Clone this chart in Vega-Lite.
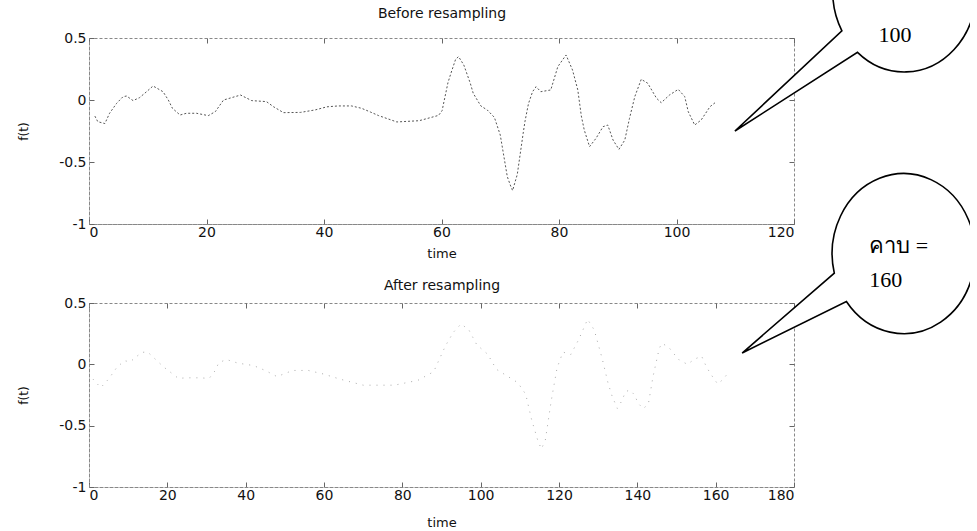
{
  "$schema": "https://vega.github.io/schema/vega-lite/v6.json",
  "background": "white",
  "padding": {"left": 17, "top": -92, "right": -10, "bottom": 0},
  "config": {
    "font": "DejaVu Sans",
    "view": {"stroke": "#888", "strokeDash": [3, 2]},
    "axis": {
      "grid": false,
      "domainColor": "#888",
      "domainDash": [3, 2],
      "tickColor": "#666",
      "tickSize": -5,
      "labelFontSize": 14,
      "labelColor": "#111",
      "labelFont": "DejaVu Sans",
      "titleFont": "DejaVu Sans",
      "titleFontSize": 13,
      "titleFontWeight": "normal",
      "titleColor": "#111"
    }
  },
  "datasets": {
    "before": [
      {"t": 1.0, "f": -0.13}, {"t": 1.5, "f": -0.175}, {"t": 2.7, "f": -0.19}, {"t": 3.5, "f": -0.107},
      {"t": 4.7, "f": -0.027}, {"t": 5.8, "f": 0.027}, {"t": 6.4, "f": 0.032}, {"t": 7.5, "f": -0.005},
      {"t": 8.6, "f": 0.019}, {"t": 9.8, "f": 0.067}, {"t": 10.9, "f": 0.113}, {"t": 12.6, "f": 0.067},
      {"t": 13.5, "f": 0.0}, {"t": 14.2, "f": -0.067}, {"t": 15.5, "f": -0.121}, {"t": 16.6, "f": -0.107},
      {"t": 18.3, "f": -0.107}, {"t": 20.3, "f": -0.126}, {"t": 21.5, "f": -0.094}, {"t": 22.9, "f": 0.0},
      {"t": 25.8, "f": 0.04}, {"t": 27.7, "f": -0.005}, {"t": 30.2, "f": -0.013}, {"t": 31.4, "f": -0.054},
      {"t": 33.1, "f": -0.102}, {"t": 36.0, "f": -0.1}, {"t": 38.5, "f": -0.08}, {"t": 40.5, "f": -0.055},
      {"t": 42.4, "f": -0.048}, {"t": 44.7, "f": -0.048}, {"t": 46.4, "f": -0.067}, {"t": 47.9, "f": -0.097},
      {"t": 49.3, "f": -0.126}, {"t": 52.4, "f": -0.177}, {"t": 56.2, "f": -0.167}, {"t": 59.5, "f": -0.124},
      {"t": 60.1, "f": -0.086}, {"t": 61.1, "f": 0.14}, {"t": 61.6, "f": 0.215}, {"t": 62.4, "f": 0.328},
      {"t": 62.9, "f": 0.35}, {"t": 63.8, "f": 0.282}, {"t": 64.9, "f": 0.135}, {"t": 65.4, "f": 0.054},
      {"t": 66.7, "f": -0.048}, {"t": 67.8, "f": -0.081}, {"t": 69.0, "f": -0.14}, {"t": 70.0, "f": -0.282},
      {"t": 70.7, "f": -0.478}, {"t": 71.2, "f": -0.618}, {"t": 71.7, "f": -0.685}, {"t": 72.1, "f": -0.73},
      {"t": 72.9, "f": -0.6}, {"t": 73.9, "f": -0.269}, {"t": 74.2, "f": -0.175}, {"t": 74.8, "f": -0.03},
      {"t": 75.5, "f": 0.067}, {"t": 76.1, "f": 0.107}, {"t": 76.9, "f": 0.067}, {"t": 78.6, "f": 0.081},
      {"t": 79.8, "f": 0.269}, {"t": 81.2, "f": 0.363}, {"t": 82.3, "f": 0.242}, {"t": 83.2, "f": 0.081},
      {"t": 83.8, "f": -0.129}, {"t": 84.3, "f": -0.242}, {"t": 85.2, "f": -0.376}, {"t": 86.3, "f": -0.309},
      {"t": 87.5, "f": -0.215}, {"t": 88.3, "f": -0.202}, {"t": 89.2, "f": -0.323}, {"t": 90.2, "f": -0.398},
      {"t": 91.2, "f": -0.323}, {"t": 92.0, "f": -0.148}, {"t": 92.9, "f": 0.027}, {"t": 94.0, "f": 0.167},
      {"t": 95.1, "f": 0.135}, {"t": 96.6, "f": 0.014}, {"t": 97.4, "f": -0.022}, {"t": 98.8, "f": 0.04},
      {"t": 100.3, "f": 0.086}, {"t": 101.4, "f": 0.027}, {"t": 102.0, "f": -0.094}, {"t": 103.1, "f": -0.202},
      {"t": 104.2, "f": -0.161}, {"t": 105.7, "f": -0.054}, {"t": 106.8, "f": -0.013}
    ],
    "after": [
      {"t": 1, "f": -0.12}, {"t": 3, "f": -0.19}, {"t": 5, "f": -0.12}, {"t": 7, "f": -0.03},
      {"t": 9, "f": 0.03}, {"t": 10.5, "f": 0.02}, {"t": 12, "f": 0.06}, {"t": 13.5, "f": 0.098},
      {"t": 15, "f": 0.1}, {"t": 17, "f": 0.04}, {"t": 19, "f": -0.02}, {"t": 20.3, "f": -0.052},
      {"t": 22.8, "f": -0.114}, {"t": 25, "f": -0.11}, {"t": 28, "f": -0.11}, {"t": 30.7, "f": -0.114},
      {"t": 32.2, "f": -0.052}, {"t": 33.1, "f": 0.011}, {"t": 35, "f": 0.04}, {"t": 38, "f": 0.01},
      {"t": 42, "f": -0.01}, {"t": 45, "f": -0.05}, {"t": 48, "f": -0.1}, {"t": 52, "f": -0.05},
      {"t": 56, "f": -0.05}, {"t": 60, "f": -0.08}, {"t": 64, "f": -0.12}, {"t": 70, "f": -0.17},
      {"t": 78, "f": -0.17}, {"t": 84, "f": -0.13}, {"t": 88, "f": -0.06}, {"t": 91, "f": 0.15},
      {"t": 93, "f": 0.26}, {"t": 95, "f": 0.33}, {"t": 97, "f": 0.28}, {"t": 99, "f": 0.16},
      {"t": 101.8, "f": 0.082}, {"t": 104, "f": -0.04}, {"t": 107, "f": -0.1}, {"t": 109.5, "f": -0.15},
      {"t": 111.5, "f": -0.244}, {"t": 113, "f": -0.45}, {"t": 114.6, "f": -0.622}, {"t": 115.5, "f": -0.69},
      {"t": 116.5, "f": -0.62}, {"t": 118, "f": -0.3}, {"t": 119.5, "f": -0.03}, {"t": 121, "f": 0.1},
      {"t": 123, "f": 0.08}, {"t": 125, "f": 0.2}, {"t": 127.3, "f": 0.367}, {"t": 129, "f": 0.28},
      {"t": 131, "f": 0.05}, {"t": 132.5, "f": -0.15}, {"t": 133.6, "f": -0.264}, {"t": 134.9, "f": -0.359},
      {"t": 136, "f": -0.3}, {"t": 137, "f": -0.223}, {"t": 138.1, "f": -0.209}, {"t": 139.3, "f": -0.25},
      {"t": 140.2, "f": -0.318}, {"t": 141.5, "f": -0.36}, {"t": 142.8, "f": -0.326}, {"t": 144, "f": -0.1},
      {"t": 145.6, "f": 0.131}, {"t": 146.3, "f": 0.171}, {"t": 148, "f": 0.14}, {"t": 149.6, "f": 0.076},
      {"t": 150.7, "f": 0.035}, {"t": 152.8, "f": 0.0}, {"t": 154.5, "f": 0.04}, {"t": 156.4, "f": 0.068},
      {"t": 157.5, "f": -0.011}, {"t": 158.6, "f": -0.073}, {"t": 160.5, "f": -0.16}, {"t": 162, "f": -0.12},
      {"t": 163.5, "f": -0.054}
    ],
    "bubble1": [{"t": 138.8, "f": 0.871}],
    "text1": [{"t": 137.2, "f": 0.524, "label": "100"}],
    "bubble2": [{"t": 208.0, "f": 0.9035}],
    "text2": [{"t": 199.2, "f": 0.965, "label": "คาบ ="}, {"t": 199.2, "f": 0.6875, "label": "160"}]
  },
  "vconcat": [
    {
      "width": 705,
      "height": 186,
      "resolve": {"axis": {"x": "independent", "y": "independent"}},
      "layer": [
        {
          "data": {"name": "before"},
          "mark": {"type": "line", "stroke": "#555", "strokeWidth": 1, "strokeDash": [2, 2]},
          "encoding": {
            "x": {"field": "t", "type": "quantitative", "scale": {"domain": [0, 120], "nice": false},
                  "axis": {"values": [0, 20, 40, 60, 80, 100, 120], "title": "time", "labelPadding": 6, "titlePadding": 8}},
            "y": {"field": "f", "type": "quantitative", "scale": {"domain": [-1, 0.5], "nice": false, "zero": false},
                  "axis": {"values": [-1, -0.5, 0, 0.5], "format": "~g", "title": "f(t)", "titleFontSize": 12, "labelPadding": 8, "titlePadding": 28,
                           "labelExpr": "replace(datum.label, '\u2212', '-')"}}
          }
        },
        {
          "data": {"name": "bubble1"},
          "mark": {"type": "point", "shape": "M -0.782 0.485 A 0.894 1 0 1 1 -0.587 0.754 L -2.119 1.738 Z",
                   "size": 25600, "filled": true, "fill": "white", "stroke": "black", "strokeWidth": 1.6, "opacity": 1},
          "encoding": {
            "x": {"field": "t", "type": "quantitative", "scale": {"domain": [0, 120], "nice": false},
                  "axis": {"orient": "top", "values": [0, 20, 40, 60, 80, 100, 120], "labels": false, "domain": false,
                           "title": "Before resampling", "titleFontSize": 14, "titlePadding": 17}},
            "y": {"field": "f", "type": "quantitative", "scale": {"domain": [-1, 0.5], "nice": false, "zero": false},
                  "axis": {"orient": "right", "values": [-1, -0.5, 0, 0.5], "labels": false, "title": null, "domain": false}}
          }
        },
        {
          "data": {"name": "text1"},
          "mark": {"type": "text", "font": "Liberation Serif", "fontSize": 22, "color": "black", "align": "center", "baseline": "middle"},
          "encoding": {
            "x": {"field": "t", "type": "quantitative", "scale": {"domain": [0, 120], "nice": false}, "axis": null},
            "y": {"field": "f", "type": "quantitative", "scale": {"domain": [-1, 0.5], "nice": false, "zero": false}, "axis": null},
            "text": {"field": "label"}
          }
        }
      ]
    },
    {
      "width": 705,
      "height": 184,
      "resolve": {"axis": {"x": "independent", "y": "independent"}},
      "layer": [
        {
          "data": {"name": "after"},
          "mark": {"type": "line", "stroke": "#aaa", "strokeWidth": 1, "strokeDash": [1, 6]},
          "encoding": {
            "x": {"field": "t", "type": "quantitative", "scale": {"domain": [0, 180], "nice": false},
                  "axis": {"values": [0, 20, 40, 60, 80, 100, 120, 140, 160, 180], "title": "time", "labelPadding": 6, "titlePadding": 14}},
            "y": {"field": "f", "type": "quantitative", "scale": {"domain": [-1, 0.5], "nice": false, "zero": false},
                  "axis": {"values": [-1, -0.5, 0, 0.5], "format": "~g", "title": "f(t)", "titleFontSize": 12, "labelPadding": 8, "titlePadding": 28,
                           "labelExpr": "replace(datum.label, '\u2212', '-')"}}
          }
        },
        {
          "data": {"name": "bubble2"},
          "mark": {"type": "point", "shape": "M -0.867 0.245 A 0.894 1 0 1 1 -0.716 0.6 L -2.019 1.244 Z",
                   "size": 25600, "filled": true, "fill": "white", "stroke": "black", "strokeWidth": 1.6, "opacity": 1},
          "encoding": {
            "x": {"field": "t", "type": "quantitative", "scale": {"domain": [0, 180], "nice": false},
                  "axis": {"orient": "top", "values": [0, 20, 40, 60, 80, 100, 120, 140, 160, 180], "labels": false, "domain": false,
                           "title": "After resampling", "titleFontSize": 14, "titlePadding": 10}},
            "y": {"field": "f", "type": "quantitative", "scale": {"domain": [-1, 0.5], "nice": false, "zero": false},
                  "axis": {"orient": "right", "values": [-1, -0.5, 0, 0.5], "labels": false, "title": null, "domain": false}}
          }
        },
        {
          "data": {"name": "text2"},
          "mark": {"type": "text", "font": "Liberation Serif", "fontSize": 22, "color": "black", "align": "left", "baseline": "middle"},
          "encoding": {
            "x": {"field": "t", "type": "quantitative", "scale": {"domain": [0, 180], "nice": false}, "axis": null},
            "y": {"field": "f", "type": "quantitative", "scale": {"domain": [-1, 0.5], "nice": false, "zero": false}, "axis": null},
            "text": {"field": "label"}
          }
        }
      ]
    }
  ],
  "spacing": 79,
  "bounds": "flush"
}
